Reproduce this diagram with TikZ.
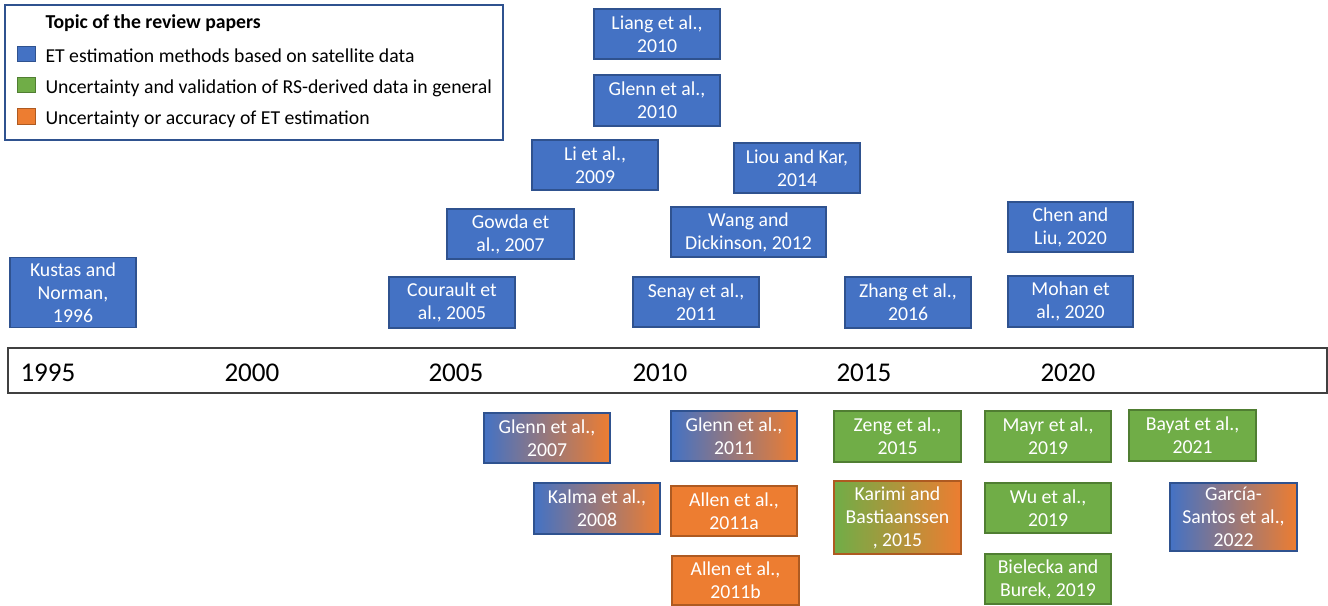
\documentclass[tikz,border=0pt]{standalone}
\usepackage{fontspec}
\setmainfont{Carlito}

\definecolor{etBlue}{RGB}{68,114,196}
\definecolor{etBlueLine}{RGB}{47,82,143}
\definecolor{rsGreen}{RGB}{112,173,71}
\definecolor{rsGreenLine}{RGB}{80,126,50}
\definecolor{acOrange}{RGB}{237,125,49}
\definecolor{acOrangeLine}{RGB}{174,90,33}
\definecolor{mixPink}{RGB}{196,121,152}
\definecolor{barLine}{RGB}{64,64,64}

\tikzset{every picture/.style={line width=0.75pt}}
\tikzset{
    paper/.style={draw, line width=1pt, inner sep=0pt, align=center, text=white, font=\fontsize{14.8}{17.3}\selectfont},
    bx/.style 2 args={minimum width=#1*0.75pt, minimum height=#2*0.75pt},
    satbox/.style={paper, fill=etBlue, draw=etBlueLine},
    valbox/.style={paper, fill=rsGreen, draw=rsGreenLine},
    accbox/.style={paper, fill=acOrange, draw=acOrangeLine},
    mixbox/.style={paper, left color=etBlue, middle color=mixPink, right color=acOrange, draw=etBlueLine},
    mixgreenbox/.style={paper, left color=rsGreen, right color=acOrange, draw=acOrangeLine},
    yearlabel/.style={anchor=base west, inner sep=0pt, font=\fontsize{20.3}{24}\selectfont},
    legendtext/.style={anchor=base west, inner sep=0pt, font=\fontsize{14.8}{17.3}\selectfont}
}

\begin{document}
\begin{tikzpicture}[x=0.75pt,y=0.75pt,yscale=-1,xscale=1]
    \useasboundingbox (0,0) rectangle (1328,606);

    %Shape: Rectangle [legend]
    \draw [draw=etBlueLine, line width=1pt] (5,5) -- (503,5) -- (503,140) -- (5,140) -- cycle ;
    %Shape: Rectangle
    \draw [fill=etBlue, draw=etBlueLine] (17,47) -- (35,47) -- (35,62) -- (17,62) -- cycle ;
    %Shape: Rectangle
    \draw [fill=rsGreen, draw=rsGreenLine] (17,78) -- (35,78) -- (35,93) -- (17,93) -- cycle ;
    %Shape: Rectangle
    \draw [fill=acOrange, draw=acOrangeLine] (17,109) -- (35,109) -- (35,125) -- (17,125) -- cycle ;
    % Text Node
    \node (legtitle) [legendtext] at (45,29) {\bfseries Topic of the review papers};
    % Text Node
    \node (legsat) [legendtext] at (45,63) {ET estimation methods based on satellite data};
    % Text Node
    \node (legval) [legendtext] at (45,94) {Uncertainty and validation of RS-derived data in general};
    % Text Node
    \node (legacc) [legendtext] at (45,125) {Uncertainty or accuracy of ET estimation};

    %Shape: Rectangle [timeline]
    \draw [fill=white, draw=barLine, line width=1.2pt] (8,348) -- (1327,348) -- (1327,393) -- (8,393) -- cycle ;
    % Text Node
    \node (y1995) [yearlabel] at (20,381) {1995};
    \node (y2000) [yearlabel] at (224,381) {2000};
    \node (y2005) [yearlabel] at (428,381) {2005};
    \node (y2010) [yearlabel] at (632,381) {2010};
    \node (y2015) [yearlabel] at (836,381) {2015};
    \node (y2020) [yearlabel] at (1040,381) {2020};

    % above the timeline: ET methods
    \node (liang10) [satbox, bx={126}{50}] at (657,34) {Liang et al.,\\2010};
    \node (glenn10) [satbox, bx={126}{51}] at (657,100.5) {Glenn et al.,\\2010};
    \node (li09) [satbox, bx={126}{50}] at (595,165) {Li et al.,\\2009};
    \node (liou14) [satbox, bx={126}{50}] at (797,168) {Liou and Kar,\\2014};
    \node (gowda07) [satbox, bx={127}{50}] at (510.5,234) {Gowda et\\al., 2007};
    \node (wang12) [satbox, bx={155}{50}] at (748.5,232) {Wang and\\Dickinson, 2012};
    \node (chen20) [satbox, bx={125}{50}] at (1070.5,227) {Chen and\\Liu, 2020};
    \node (kustas96) [satbox, bx={126}{70}] at (73,292.5) {Kustas and\\Norman,\\1996};
    \node (courault05) [satbox, bx={126}{51}] at (452,302.5) {Courault et\\al., 2005};
    \node (senay11) [satbox, bx={126}{50}] at (696,302) {Senay et al.,\\2011};
    \node (zhang16) [satbox, bx={126}{51}] at (908,302.5) {Zhang et al.,\\2016};
    \node (mohan20) [satbox, bx={125}{51}] at (1070.5,301.5) {Mohan et\\al., 2020};

    % below the timeline: uncertainty and validation
    \node (glenn07) [mixbox, bx={126}{50}] at (547,438) {Glenn et al.,\\2007};
    \node (glenn11) [mixbox, bx={126}{50}] at (734,436) {Glenn et al.,\\2011};
    \node (kalma08) [mixbox, bx={126}{51}] at (597,508.5) {Kalma et al.,\\2008};
    \node (allen11a) [accbox, bx={126}{50}] at (734,511) {Allen et al.,\\2011a};
    \node (allen11b) [accbox, bx={127}{49}] at (735.5,580.5) {Allen et al.,\\2011b};
    \node (zeng15) [valbox, bx={127}{51}] at (897.5,436.5) {Zeng et al.,\\2015};
    \node (karimi15) [mixgreenbox, bx={127}{73}] at (897.5,517.5) {Karimi and\\Bastiaanssen\\, 2015};
    \node (mayr19) [valbox, bx={126}{51}] at (1048,436.5) {Mayr et al.,\\2019};
    \node (wu19) [valbox, bx={126}{50}] at (1048,508) {Wu et al.,\\2019};
    \node (bielecka19) [valbox, bx={126}{50}] at (1048,579) {Bielecka and\\Burek, 2019};
    \node (bayat21) [valbox, bx={127}{51}] at (1192.5,435.5) {Bayat et al.,\\2021};
    \node (garcia22) [mixbox, bx={127}{68}] at (1233.5,517) {García-\\Santos et al.,\\2022};

\end{tikzpicture}
\end{document}
